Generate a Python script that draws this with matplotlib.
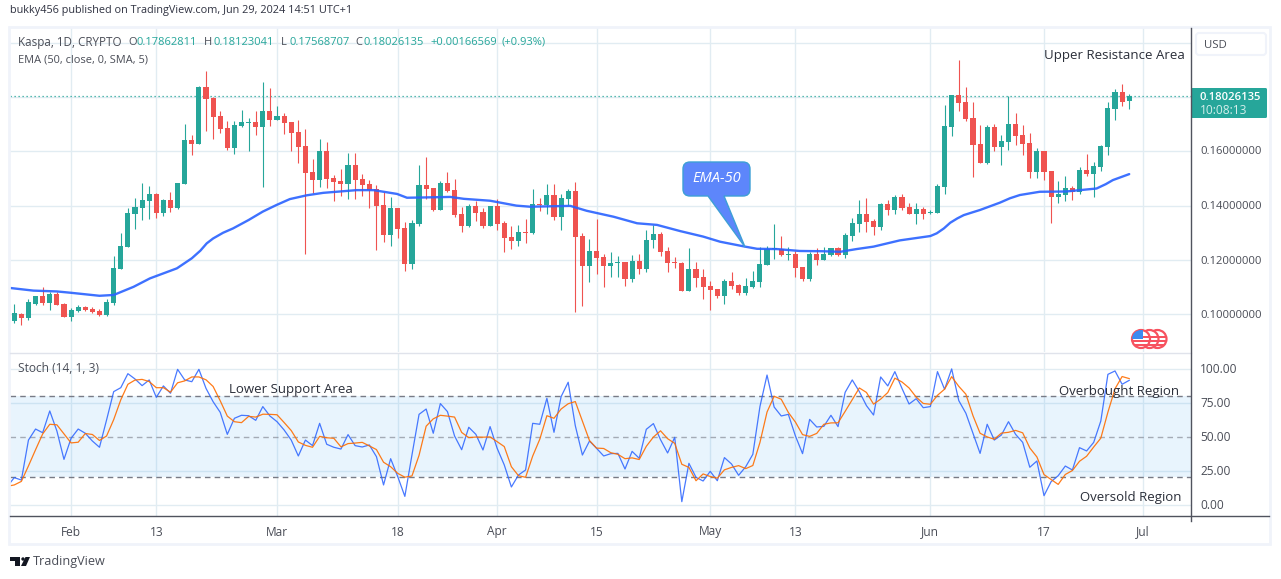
import matplotlib
matplotlib.use("Agg")
import matplotlib.pyplot as plt
import numpy as np
import pandas as pd
from matplotlib.path import Path
from matplotlib.patches import PathPatch, Rectangle, Circle, FancyBboxPatch, Polygon

plt.rcParams['font.family'] = ['Open Sans', 'DejaVu Sans']

# datos: velas diarias desde 2024-01-24
start_date = "2024-01-24"

opens = [
    .0975, .1001, .0986, .1038, .1067, .1041, .1074, .1038, .0990, .1012,
    .1027, .1019, .1012, .0997, .1041, .1166, .1247, .1369, .1391, .1417,
    .1443, .1373, .1420, .1391, .1479, .1641, .1627, .1836, .1796, .1730,
    .1685, .1612, .1693, .1705, .1708, .1689, .1748, .1715, .1730, .1708,
    .1671, .1619, .1524, .1494, .1601, .1501, .1490, .1479, .1549, .1498,
    .1479, .1461, .1402, .1292, .1391, .1317, .1185, .1332, .1476, .1465,
    .1384, .1483, .1457, .1369, .1325, .1398, .1376, .1325, .1398, .1336,
    .1284, .1270, .1303, .1299, .1406, .1402, .1439, .1358, .1424, .1454,
    .1288, .1178, .1233, .1211, .1178, .1189, .1192, .1130, .1196, .1167,
    .1273, .1295, .1233, .1192, .1189, .1086, .1167, .1137, .1104, .1093,
    .1067, .1122, .1108, .1078, .1100, .1119, .1181, .1240, .1240, .1218,
    .1222, .1174, .1130, .1222, .1200, .1218, .1244, .1218, .1288, .1332,
    .1369, .1343, .1321, .1406, .1384, .1431, .1395, .1369, .1387, .1373,
    .1373, .1468, .1689, .1807, .1781, .1722, .1627, .1557, .1689, .1616,
    .1634, .1700, .1660, .1630, .1523, .1601, .1527, .1431, .1439, .1465,
    .1450, .1531, .1516, .1542, .1616, .1755, .1818, .17862811,
]
highs = [
    .1038, .1006, .1055, .1067, .1100, .1081, .1083, .1040, .1023, .1034,
    .1030, .1027, .1018, .1057, .1214, .1298, .1391, .1428, .1483, .1472,
    .1445, .1424, .1450, .1483, .1700, .1660, .1840, .1895, .1801, .1748,
    .1711, .1711, .1752, .1722, .1748, .1855, .1833, .1766, .1741, .1708,
    .1715, .1682, .1571, .1645, .1634, .1513, .1535, .1593, .1593, .1516,
    .1494, .1476, .1450, .1432, .1391, .1340, .1347, .1549, .1579, .1465,
    .1490, .1524, .1498, .1395, .1406, .1417, .1391, .1398, .1424, .1343,
    .1325, .1328, .1351, .1461, .1428, .1479, .1479, .1443, .1461, .1487,
    .1299, .1277, .1351, .1222, .1229, .1214, .1192, .1218, .1222, .1310,
    .1327, .1303, .1248, .1211, .1192, .1244, .1192, .1167, .1122, .1093,
    .1130, .1156, .1111, .1133, .1159, .1248, .1251, .1332, .1288, .1248,
    .1233, .1174, .1229, .1244, .1248, .1244, .1248, .1299, .1354, .1421,
    .1428, .1350, .1409, .1420, .1439, .1443, .1409, .1409, .1395, .1384,
    .1479, .1770, .1807, .1936, .1836, .1781, .1697, .1697, .1700, .1660,
    .1803, .1741, .1697, .1667, .1612, .1601, .1527, .1490, .1509, .1472,
    .1542, .1590, .1560, .1623, .1781, .1829, .1847, .18123041,
]
lows = [
    .0969, .0960, .0979, .1034, .1034, .1016, .1034, .0990, .0975, .1008,
    .1012, .1003, .0995, .0993, .1034, .1166, .1247, .1314, .1347, .1351,
    .1353, .1362, .1376, .1387, .1479, .1586, .1627, .1674, .1645, .1667,
    .1604, .1590, .1689, .1601, .1660, .1468, .1693, .1715, .1663, .1601,
    .1557, .1222, .1446, .1468, .1465, .1417, .1435, .1424, .1424, .1435,
    .1391, .1236, .1266, .1251, .1281, .1159, .1167, .1325, .1424, .1380,
    .1384, .1450, .1358, .1303, .1321, .1343, .1317, .1325, .1310, .1229,
    .1240, .1251, .1262, .1295, .1380, .1369, .1347, .1310, .1402, .1008,
    .1030, .1119, .1148, .1100, .1137, .1137, .1104, .1119, .1148, .1156,
    .1244, .1214, .1156, .1170, .1086, .1086, .1100, .1056, .1016, .1060,
    .1038, .1093, .1071, .1071, .1097, .1100, .1181, .1203, .1214, .1200,
    .1137, .1122, .1122, .1181, .1200, .1214, .1214, .1207, .1270, .1303,
    .1303, .1292, .1310, .1365, .1369, .1384, .1369, .1332, .1350, .1369,
    .1373, .1443, .1656, .1748, .1711, .1505, .1557, .1553, .1601, .1549,
    .1604, .1623, .1586, .1501, .1501, .1494, .1336, .1409, .1417, .1420,
    .1443, .1509, .1431, .1527, .1586, .1715, .1766, .17568707,
]
closes = [
    .1005, .0986, .1045, .1067, .1041, .1074, .1034, .0990, .1016, .1027,
    .1016, .1008, .0997, .1045, .1170, .1251, .1373, .1395, .1420, .1443,
    .1373, .1420, .1391, .1483, .1641, .1627, .1836, .1792, .1726, .1682,
    .1612, .1696, .1708, .1709, .1689, .1748, .1715, .1730, .1704, .1667,
    .1616, .1520, .1494, .1601, .1498, .1487, .1479, .1549, .1494, .1476,
    .1457, .1398, .1292, .1391, .1314, .1185, .1336, .1476, .1461, .1384,
    .1483, .1454, .1365, .1325, .1398, .1373, .1325, .1398, .1332, .1281,
    .1270, .1303, .1299, .1406, .1402, .1439, .1358, .1428, .1454, .1284,
    .1178, .1233, .1207, .1178, .1189, .1192, .1130, .1196, .1167, .1273,
    .1295, .1229, .1189, .1189, .1086, .1167, .1133, .1100, .1089, .1067,
    .1122, .1104, .1078, .1104, .1122, .1185, .1240, .1244, .1218, .1222,
    .1170, .1130, .1222, .1200, .1222, .1244, .1218, .1292, .1336, .1369,
    .1340, .1321, .1406, .1384, .1431, .1391, .1369, .1387, .1369, .1376,
    .1472, .1693, .1807, .1777, .1719, .1623, .1557, .1689, .1616, .1638,
    .1700, .1656, .1627, .1523, .1601, .1523, .1431, .1443, .1465, .1450,
    .1531, .1516, .1546, .1619, .1759, .1818, .1781, .18026135,
]

ema_days = [-1, 2.7, 6, 8, 12, 14, 16.8, 19.1, 22.9, 25, 26.2, 27.1, 28, 29.4, 30.8, 33, 35, 36.9, 38.8, 41.2, 43.5,
            48.2, 50.6, 53.9, 55.3, 57.6, 61.4, 63.3, 67, 70.7, 72.6, 78.3, 80.6, 84.4,
            87.7, 90.5, 93.8, 97, 99.4, 102.9, 104.6, 107.4, 110.6, 113.9, 116.3, 118.6,
            121, 124.7, 129, 129.9, 130.9, 131.8, 132.8, 133.7, 134.9, 136, 138.8, 140.2, 141.6, 144.4, 148.1, 152.4,
            153.7, 154.7, 157]
ema_values = [.1098, .1087, .1084, .1079, .1068, .1071, .1101, .1132, .1169, .1206, .1234, .1261, .1279, .1300,
              .1316, .1347, .1378, .1402, .1424, .1438, .1447, .1457, .1457, .1443, .1429, .1430, .1432,
              .1425, .1418, .1400, .1396, .1399, .1381, .1359, .1335, .1329, .1306, .1286,
              .1267, .1249, .1241, .1240, .1233, .1232, .1230, .1240, .1249, .1272, .1288,
              .1298, .1316, .1337, .1353, .1365, .1375, .1384, .1411, .1427, .1439, .1451, .1452, .1463,
              .1479, .1494, .1516]

# estocastico, empieza un dia antes de la primera vela
stoch_k = [
    13.2, 19.9, 18.1, 47.5, 55.6, 52.9, 68.9, 54.2, 33.3, 48.8, 55.6,
    52.5, 46.8, 42.2, 62.3, 83.1, 86.0, 96.3, 92.4, 87.5, 91.7,
    78.9, 87.3, 81.9, 99.5, 91.7, 90.4, 99.5, 85.5, 75.7, 67.9,
    51.7, 63.5, 65.7, 65.4, 62.0, 72.1, 65.2, 61.0, 54.9, 47.5,
    35.8, 47.5, 43.4, 59.8, 44.4, 42.2, 40.9, 51.5, 43.4, 42.4,
    43.9, 35.3, 14.5, 33.8, 20.6, 6.1, 36.5, 66.4, 70.3, 52.5,
    74.3, 68.4, 50.5, 40.4, 56.9, 51.7, 40.2, 57.4, 41.4, 29.2,
    13.0, 21.8, 25.5, 59.8, 59.1, 78.2, 53.2, 79.4, 90.0, 58.1,
    36.5, 46.8, 41.4, 35.8, 37.5, 37.7, 26.2, 39.2, 34.1, 55.4,
    59.6, 47.8, 38.0, 49.5, 2.2, 30.4, 20.1, 17.4, 24.5, 17.6,
    34.6, 29.9, 21.6, 27.9, 37.0, 72.1, 95.3, 71.8, 65.2, 66.4,
    50.5, 37.5, 62.7, 57.1, 57.6, 65.7, 57.4, 82.6, 91.7, 83.1,
    72.8, 65.9, 93.9, 87.3, 97.8, 85.5, 74.0, 77.9, 71.3, 72.1,
    97.8, 84.8, 99.8, 76.5, 67.2, 52.5, 37.7, 59.1, 47.5, 51.2,
    61.0, 51.7, 45.8, 27.5, 32.1, 6.6, 16.9, 21.3, 28.4, 25.5,
    41.9, 39.5, 45.8, 61.5, 95.8, 98.3, 88.5, 91.4,
]
stoch_d = [
    13.5, 14.5, 17.1, 28.5, 40.4, 52.0, 59.1, 58.7, 52.1, 45.4, 45.9,
    52.3, 51.6, 47.2, 50.5, 62.5, 77.1, 88.5, 91.6, 92.1, 90.5,
    86.0, 86.0, 82.7, 89.6, 91.0, 93.9, 93.9, 91.8, 86.9, 76.4,
    65.1, 61.0, 60.3, 64.9, 64.4, 66.5, 66.4, 66.1, 60.4, 54.5,
    46.1, 43.6, 42.2, 50.2, 49.2, 48.8, 42.5, 44.9, 45.3, 45.8,
    43.2, 40.5, 31.2, 27.9, 23.0, 20.2, 21.1, 36.3, 57.7, 63.1,
    65.7, 65.1, 64.4, 53.1, 49.3, 49.7, 49.6, 49.8, 46.3, 42.7,
    27.9, 21.3, 20.1, 35.7, 48.1, 65.4, 63.5, 70.3, 74.2, 75.8,
    61.5, 47.1, 41.6, 41.3, 38.2, 37.0, 33.8, 34.4, 33.2, 42.9,
    49.7, 54.3, 48.5, 45.1, 29.7, 27.4, 17.6, 22.6, 20.7, 19.5,
    25.6, 27.4, 28.7, 26.5, 28.8, 45.7, 68.1, 79.7, 77.5, 67.8,
    60.7, 51.5, 50.2, 52.4, 59.1, 60.1, 60.2, 68.6, 77.2, 85.8,
    82.5, 73.9, 77.6, 82.4, 93.0, 90.2, 85.8, 79.1, 74.4, 73.8,
    80.4, 84.9, 94.1, 87.0, 81.2, 65.4, 52.5, 49.8, 48.1, 52.6,
    53.2, 54.6, 52.8, 41.7, 35.1, 22.1, 18.5, 14.9, 22.2, 25.1,
    31.9, 35.6, 42.4, 48.9, 68.0, 85.2, 94.2, 92.7,
]

tick_dates = ["2024-02-01", "2024-02-13", "2024-03-01", "2024-03-18", "2024-04-01", "2024-04-15",
              "2024-05-01", "2024-05-13", "2024-06-01", "2024-06-17", "2024-07-01"]
tick_labels = ["Feb", "13", "Mar", "18", "Apr", "15", "May", "13", "Jun", "17", "Jul"]
price_ticks = [0.10, 0.12, 0.14, 0.16, 0.18, 0.20]
price_labels = ["0.10000000", "0.12000000", "0.14000000", "0.16000000"]
stoch_ticks = [100, 75, 25, 0]
stoch_labels = ["100.00", "75.00", "50.00", "25.00", "0.00"]
last_price = closes[-1]

VERDE = "#26a69a"
ROJO = "#ef5350"
GRID = "#e1ecf2"
TEXTO = "#4a4d57"
W, H = 1281, 579

fig = plt.figure(figsize=(W / 100, H / 100), dpi=100, facecolor="white")


def caja(x0, y0, x1, y1):
    # pasa un rectangulo en pixeles (y hacia abajo) a coordenadas de figura
    return [x0 / W, 1 - y1 / H, (x1 - x0) / W, (y1 - y0) / H]


ax = fig.add_axes(caja(10, 28, 1191, 352))
ax2 = fig.add_axes(caja(10, 353, 1191, 516))
# capa de pixeles para textos y adornos
capa = fig.add_axes([0, 0, 1, 1], zorder=10)
capa.set_xlim(0, W)
capa.set_ylim(H, 0)
capa.axis("off")
capa.patch.set_alpha(0)


def texto(x, y, s, size=8.6, color=TEXTO, ha="left", **kw):
    # Open Sans queda algo alta con va=center, se baja un pixel
    capa.text(x, y + 1, s, ha=ha, va="center", fontsize=size, color=color, **kw)


dias = np.arange(len(opens))
dias_tick = [(pd.Timestamp(d) - pd.Timestamp(start_date)).days for d in tick_dates]
xlim = (-0.6, 165.7)

for a in (ax, ax2):
    a.set_xlim(*xlim)
    a.set_xticks(dias_tick)
    a.tick_params(length=0, labelbottom=False, labelleft=False)
    a.grid(axis="x", color=GRID, lw=1)
    a.set_axisbelow(True)
    for s in a.spines.values():
        s.set_visible(False)

# panel de precio
ax.set_ylim(0.0861, 0.2054)
ax.set_yticks(price_ticks)
ax.grid(axis="y", color=GRID, lw=1)

colores = [VERDE if c >= o else ROJO for o, c in zip(opens, closes)]
ax.vlines(dias, lows, highs, colors=colores, lw=0.8, zorder=2)
cuerpo_bajo = np.minimum(opens, closes)
cuerpo_alto = np.maximum(opens, closes)
ax.bar(dias, cuerpo_alto - cuerpo_bajo, bottom=cuerpo_bajo, width=0.72, color=colores, lw=0, zorder=3)
ax.plot(ema_days, ema_values, color="#2962ff", lw=1.7, alpha=0.9, zorder=4, solid_capstyle="round")
ax.axhline(last_price, color=VERDE, lw=0.9, ls=(0, (1, 2.2)), zorder=1)

# panel estocastico
dias_stoch = np.arange(-1, len(stoch_k) - 1)
ax2.set_ylim(-8.33, 111.5)
ax2.set_yticks(stoch_ticks)
ax2.grid(axis="y", color=GRID, lw=1)
ax2.axhspan(20, 80, color="#2196f3", alpha=0.1, lw=0)
ax2.axhline(80, color="#787b86", lw=1, ls=(0, (4, 3)))
ax2.axhline(50, color="#787b86", lw=1, ls=(0, (4, 3)), alpha=0.6)
ax2.axhline(20, color="#787b86", lw=1, ls=(0, (4, 3)))
ax2.plot(dias_stoch, stoch_k, color="#2962ff", lw=0.9, alpha=0.85, zorder=3)
ax2.plot(dias_stoch, stoch_d, color="#ff6d00", lw=0.9, alpha=0.9, zorder=4)

# marco y ejes
capa.add_patch(Rectangle((9, 27), 1261, 517, fill=False, ec="#f0f3fa", lw=2))
capa.plot([10, 1191], [352.5, 352.5], color="#e0e3eb", lw=1)
capa.plot([10, 1269], [516, 516], color="#50535e", lw=1)
capa.plot([1191, 1191], [28, 521], color="#50535e", lw=1)

# etiquetas de ejes
for d, t in zip(dias_tick, tick_labels):
    xp = 14.3 + d * 7.1
    texto(xp, 531, t, ha="center")
for yp, t in zip([314, 260, 205.5, 151], price_labels):
    texto(1200, yp, t, size=8.1)
for yp, t in zip([368.5, 402.5, 436.5, 470.5, 504.5], stoch_labels):
    texto(1200, yp, t)

capa.add_patch(FancyBboxPatch((1196, 33), 70, 22, boxstyle="round,pad=0,rounding_size=3",
                              fc="white", ec="#f0f3fa", lw=1.5))
texto(1204, 44, "USD", size=8.2)
capa.add_patch(FancyBboxPatch((1191, 88), 76, 30, boxstyle="round,pad=0,rounding_size=1.5",
                              fc=VERDE, ec="none"))
texto(1200, 96, f"{last_price:.8f}", size=8.1, color="white", fontweight="semibold")
texto(1200, 110, "10:08:13", color="#d4eeeb")

# cabecera
texto(10, 9, "bukky456 published on TradingView.com, Jun 29, 2024 14:51 UTC+1", size=7.8, color="#2f3241")
texto(18, 41.5, "Kaspa, 1D, CRYPTO", size=8.4)
leyenda = [(128, "O", TEXTO), (136.5, "0.17862811", VERDE), (204, "H", TEXTO), (213, "0.18123041", VERDE),
           (281, "L", TEXTO), (289, "0.17568707", VERDE), (355, "C", TEXTO), (364, "0.18026135", VERDE),
           (430, "+0.00166569", VERDE), (502, "(+0.93%)", VERDE)]
for xp, t, c in leyenda:
    texto(xp, 41.5, t, size=8.0, color=c)
texto(18, 59, "EMA (50, close, 0, SMA, 5)", size=7.9)
texto(18, 368, "Stoch (14, 1, 3)", size=8.6)

# notas del autor
notas = [(1044, 54, "Upper Resistance Area"), (229, 389, "Lower Support Area"),
         (1059, 391, "Overbought Region"), (1080, 496, "Oversold Region")]
for xp, yp, t in notas:
    texto(xp, yp, t, size=9.55, color="#2a2e39")

# globo EMA-50
x0, x1, y0, y1, r = 683, 750, 162, 196, 7
verts = [(x0 + r, y0), (x1 - r, y0), (x1, y0), (x1, y0 + r), (x1, y1 - r), (x1, y1), (x1 - r, y1),
         (724, y1), (745, 247), (708, y1), (x0 + r, y1), (x0, y1), (x0, y1 - r), (x0, y0 + r), (x0, y0),
         (x0 + r, y0), (x0 + r, y0)]
codes = [Path.MOVETO, Path.LINETO, Path.CURVE3, Path.CURVE3, Path.LINETO, Path.CURVE3, Path.CURVE3,
         Path.LINETO, Path.LINETO, Path.LINETO, Path.LINETO, Path.CURVE3, Path.CURVE3, Path.LINETO,
         Path.CURVE3, Path.CURVE3, Path.CLOSEPOLY]
capa.add_patch(PathPatch(Path(verts, codes), fc="#5d86fb", ec="#3d9fd6", lw=1))
texto(716.5, 178, "EMA-50", size=10.5, color="white", ha="center", style="italic")

# banderas de eventos
for cx in (1157.5, 1149.5, 1141):
    c = Circle((cx, 339), 9, fc="white", ec="#f7525f", lw=1.6)
    capa.add_patch(c)
    for yp in (336, 340, 344):
        r1 = capa.add_patch(Rectangle((cx - 9, yp), 18, 2, fc="#f7525f", ec="none"))
        r1.set_clip_path(c)
    if cx == 1141:
        r2 = capa.add_patch(Rectangle((cx - 9, 330), 11, 8.5, fc="#3d8bf0", ec="none"))
        r2.set_clip_path(c)

# logo
capa.add_patch(Polygon([(10, 557), (20, 557), (20, 566), (15, 566), (15, 561), (10, 561)], fc="#131722", ec="none"))
capa.add_patch(Circle((23, 559), 1.7, fc="#131722", ec="none"))
capa.add_patch(Polygon([(25.5, 557), (30, 557), (26, 566), (21, 566)], fc="#131722", ec="none"))
texto(33, 560.5, "TradingView", size=9.1)

fig.savefig("out.png", dpi=100)
plt.close(fig)
